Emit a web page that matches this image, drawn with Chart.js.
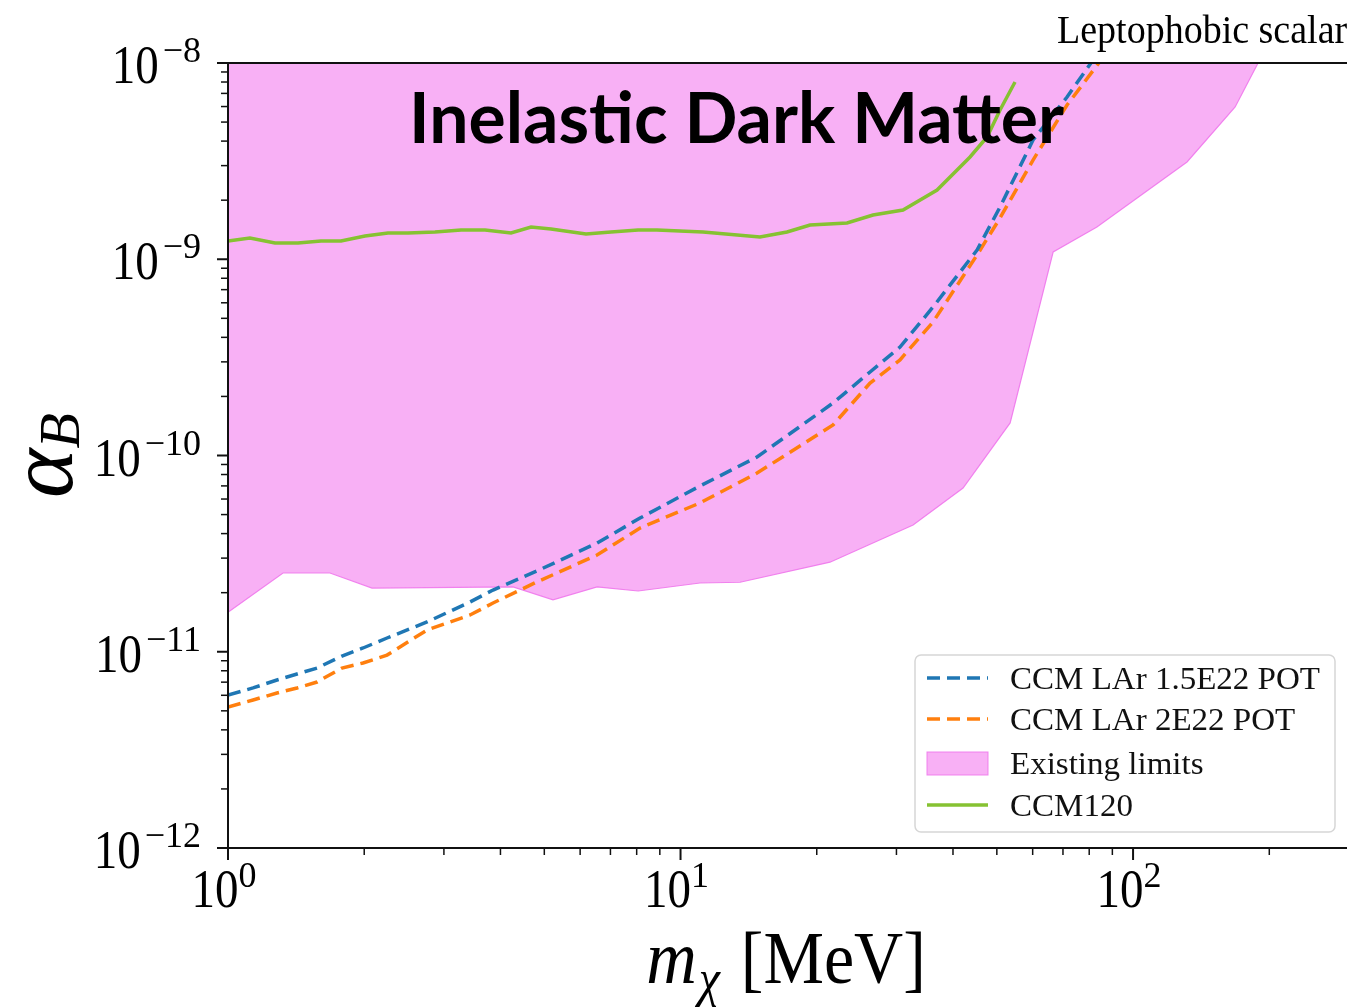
<!DOCTYPE html>
<html>
<head>
<meta charset="utf-8">
<script src="https://cdn.jsdelivr.net/npm/chart.js@4.4.1/dist/chart.umd.min.js"></script>
<style>
  body { margin: 0; background: #fff; }
  canvas { display: block; }
</style>
</head>
<body>
<canvas id="limits" width="1347" height="1007"></canvas>
<script>
// m_chi [MeV] / alpha_B values
const limitMass = [1.0, 1.323, 1.680, 2.081, 4.264, 5.226, 6.54, 8.06, 11.04, 13.54, 21.39, 32.65, 42.1, 53.5, 66.6, 83.2, 131.6, 168.1, 188.9];
const limitAlpha = [1.59e-11, 2.52e-11, 2.52e-11, 2.11e-11, 2.14e-11, 1.84e-11, 2.14e-11, 2.04e-11, 2.24e-11, 2.26e-11, 2.86e-11, 4.42e-11, 6.83e-11, 1.465e-10, 1.09e-9, 1.46e-9, 3.13e-9, 5.97e-9, 1.0e-8];

const ccm120Mass = [1.0, 1.118, 1.270, 1.428, 1.605, 1.777, 2.008, 2.257, 2.499, 2.867, 3.273, 3.698, 4.221, 4.674, 5.173, 6.182, 7.02, 8.06, 8.87, 11.21, 14.98, 17.19, 19.33, 23.33, 26.63, 31.02, 36.89, 43.63, 47.58, 50.82, 54.85];
const ccm120Alpha = [1.239e-9, 1.282e-9, 1.210e-9, 1.210e-9, 1.239e-9, 1.239e-9, 1.313e-9, 1.361e-9, 1.361e-9, 1.377e-9, 1.409e-9, 1.409e-9, 1.361e-9, 1.459e-9, 1.426e-9, 1.345e-9, 1.377e-9, 1.409e-9, 1.409e-9, 1.377e-9, 1.298e-9, 1.377e-9, 1.495e-9, 1.531e-9, 1.680e-9, 1.782e-9, 2.254e-9, 3.32e-9, 4.20e-9, 5.76e-9, 8.00e-9];

const lar15Mass = [1.0, 1.136, 1.283, 1.421, 1.573, 1.786, 1.988, 2.246, 2.753, 3.426, 3.852, 4.818, 6.539, 8.137, 11.04, 14.76, 21.73, 26.23, 30.55, 36.14, 45.21, 50.82, 60.11, 71.47, 84.55];
const lar15Alpha = [6.02e-12, 6.54e-12, 7.18e-12, 7.70e-12, 8.26e-12, 9.51e-12, 1.045e-11, 1.175e-11, 1.418e-11, 1.792e-11, 2.063e-11, 2.58e-11, 3.58e-11, 4.80e-11, 6.99e-11, 9.83e-11, 1.851e-10, 2.664e-10, 3.57e-10, 5.71e-10, 1.114e-9, 1.845e-9, 4.05e-9, 6.71e-9, 1.165e-8];

const lar2Mass = [1.0, 1.136, 1.283, 1.421, 1.573, 1.786, 1.988, 2.246, 2.753, 3.426, 3.852, 4.818, 6.539, 8.137, 11.04, 14.76, 21.73, 26.23, 30.55, 36.14, 45.21, 50.82, 60.11, 71.47, 88.96];
const lar2Alpha = [5.23e-12, 5.68e-12, 6.16e-12, 6.54e-12, 7.01e-12, 8.26e-12, 8.76e-12, 9.62e-12, 1.29e-11, 1.539e-11, 1.771e-11, 2.27e-11, 3.11e-11, 4.27e-11, 5.73e-11, 8.14e-11, 1.43e-10, 2.34e-10, 3.07e-10, 4.79e-10, 1.051e-9, 1.622e-9, 3.20e-9, 6.11e-9, 1.19e-8];

const seriesLabels = ['CCM LAr 1.5E22 POT', 'CCM LAr 2E22 POT', 'Existing limits', 'CCM120'];
const xRange = [1, 297];
const yRange = [1e-12, 1e-8];
const titleText = 'Inelastic Dark Matter';
const cornerText = 'Leptophobic scalar';

const SERIF = '"Liberation Serif", "DejaVu Serif", serif';

function pts(xs, ys){
  return xs.map(function(x, i){ return {x: x, y: ys[i]}; });
}

function txt(ctx, s, x, y, font, align, sx, sy){
  ctx.save();
  ctx.font = font;
  ctx.textAlign = align || 'left';
  ctx.textBaseline = 'alphabetic';
  ctx.translate(x, y);
  ctx.scale(sx || 1, sy || 1);
  ctx.fillText(s, 0, 0);
  ctx.restore();
}

function width(ctx, s, font){
  ctx.save(); ctx.font = font; var w = ctx.measureText(s).width; ctx.restore();
  return w;
}

// log ticks at k*10^n, using the chart's own scale for pixel positions
function logTicks(scale){
  var out = [];
  var lo = Math.floor(Math.log10(scale.min) + 1e-9), hi = Math.ceil(Math.log10(scale.max) - 1e-9);
  for (var e = lo; e <= hi; e++){
    for (var k = 1; k <= 9; k++){
      var v = k * Math.pow(10, e);
      if (v < scale.min * 0.9999 || v > scale.max * 1.0001) continue;
      out.push({v: v, exp: e, major: k === 1, px: scale.getPixelForValue(v)});
    }
  }
  return out;
}

const baseFont = '47px ' + SERIF;
const expFont = '36px ' + SERIF;

const axesPlugin = {
  id: 'mplAxes',
  afterDraw: function(chart){
    var ctx = chart.ctx, a = chart.chartArea;
    var xs = chart.scales.x, ys = chart.scales.y;
    ctx.save();
    ctx.fillStyle = '#000';

    // spines
    ctx.strokeStyle = '#111';
    ctx.lineWidth = 2;
    ctx.beginPath();
    ctx.moveTo(a.left, a.top); ctx.lineTo(a.right, a.top);
    ctx.moveTo(a.left, a.top); ctx.lineTo(a.left, a.bottom);
    ctx.lineTo(a.right, a.bottom);
    ctx.stroke();

    // x ticks + labels
    logTicks(xs).forEach(function(t){
      ctx.lineWidth = t.major ? 2 : 1.5;
      ctx.beginPath();
      ctx.moveTo(t.px, a.bottom);
      ctx.lineTo(t.px, a.bottom + (t.major ? 12 : 7));
      ctx.stroke();
      if (t.major){
        var e = String(t.exp).replace('-', '\u2212');
        var wb = width(ctx, '10', baseFont), we = width(ctx, e, expFont);
        var x0 = t.px - 4 - (wb + we) / 2;
        txt(ctx, '10', x0, a.bottom + 59, baseFont, 'left', 1, 1.15);
        txt(ctx, e, x0 + wb, a.bottom + 39, expFont, 'left', 1, 1);
      }
    });

    // y ticks + labels
    logTicks(ys).forEach(function(t){
      ctx.lineWidth = t.major ? 2 : 1.5;
      ctx.beginPath();
      ctx.moveTo(a.left, t.px);
      ctx.lineTo(a.left - (t.major ? 11 : 7), t.px);
      ctx.stroke();
      if (t.major){
        var e = String(t.exp).replace('-', '\u2212');
        var wb = width(ctx, '10', baseFont), we = width(ctx, e, expFont);
        var right = a.left - 27;
        txt(ctx, '10', right - we - wb - 4, t.px + 20, baseFont, 'left', 1, 1.15);
        txt(ctx, e, right - we, t.px - 1, expFont, 'left', 1, 1);
      }
    });

    // x axis title: m_chi [MeV]
    var fM = 'italic 70px ' + SERIF, fSub = 'italic 48px ' + SERIF, fR = '68px ' + SERIF;
    var w1 = width(ctx, 'm', fM), w2 = width(ctx, '\u03c7', fSub), w3 = width(ctx, ' [MeV]', fR);
    var sx0 = 786 - (w1 + w2 + 6 + w3) / 2;
    txt(ctx, 'm', sx0, 983, fM, 'left', 1, 1.1);
    txt(ctx, '\u03c7', sx0 + w1 + 2, 996, fSub, 'left', 1, 1.1);
    txt(ctx, ' [MeV]', sx0 + w1 + w2 + 6, 983, fR, 'left', 1, 1.1);

    // y axis title: alpha_B (rotated)
    ctx.save();
    ctx.translate(0, (a.top + a.bottom) / 2);
    ctx.rotate(-Math.PI / 2);
    var fA = 'italic 94px ' + SERIF, fB = 'italic 58px ' + SERIF;
    var wa = width(ctx, '\u03b1', fA), wB = width(ctx, 'B', fB);
    var u0 = -(wa + wB) / 2;
    txt(ctx, '\u03b1', u0, 72, fA, 'left', 1, 1);
    txt(ctx, 'B', u0 + wa, 79, fB, 'left', 1, 1);
    ctx.restore();

    // corner label
    txt(ctx, cornerText, 1057, 43, '38px ' + SERIF, 'left', 1, 1.05);

    // legend
    var lx = 915, ly = 655, lw = 420, lh = 177;
    ctx.beginPath();
    ctx.roundRect(lx, ly, lw, lh, 6);
    ctx.fillStyle = 'rgba(255,255,255,0.85)';
    ctx.fill();
    ctx.strokeStyle = '#d6d6d6';
    ctx.lineWidth = 1.5;
    ctx.stroke();
    var rows = [678, 719, 763, 805];
    var ds = chart.data.datasets;
    seriesLabels.forEach(function(label, i){
      var d = ds.find(function(s){ return s.label === label; });
      var y = rows[i];
      ctx.save();
      if (d.fill){
        ctx.fillStyle = d.backgroundColor;
        ctx.strokeStyle = d.borderColor;
        ctx.lineWidth = 1;
        ctx.fillRect(927, y - 11, 61, 23);
        ctx.strokeRect(927, y - 11, 61, 23);
      } else {
        ctx.strokeStyle = d.borderColor;
        ctx.lineWidth = d.borderWidth;
        ctx.setLineDash(d.borderDash || []);
        ctx.beginPath();
        ctx.moveTo(927, y); ctx.lineTo(988, y);
        ctx.stroke();
      }
      ctx.restore();
      ctx.fillStyle = '#111';
      txt(ctx, label, 1010, y + 11, '31px ' + SERIF, 'left', 1.065, 1.05);
    });

    // big overlay title
    var tf = 'bold 70px Lato, "Open Sans", sans-serif';
    var tw = width(ctx, titleText, tf);
    ctx.fillStyle = '#000';
    txt(ctx, titleText, 409, 143, tf, 'left', 655 / tw, 1);

    ctx.restore();
  }
};

function noSize(scale){
  if (scale.isHorizontal()) scale.height = 0; else scale.width = 0;
}

new Chart(document.getElementById('limits').getContext('2d'), {
  type: 'line',
  data: {
    datasets: [
      {label: seriesLabels[0], data: pts(lar15Mass, lar15Alpha), borderColor: '#1f77b4', borderWidth: 3.5,
       borderDash: [13, 7], fill: false, order: 1},
      {label: seriesLabels[1], data: pts(lar2Mass, lar2Alpha), borderColor: '#ff7f0e', borderWidth: 3.5,
       borderDash: [13, 7], fill: false, order: 2},
      {label: seriesLabels[2], data: pts(limitMass, limitAlpha), borderColor: 'rgba(240,120,236,0.9)', borderWidth: 1.2,
       backgroundColor: 'rgba(246,150,242,0.75)', fill: 'end', order: 4},
      {label: seriesLabels[3], data: pts(ccm120Mass, ccm120Alpha), borderColor: '#86c232', borderWidth: 3.5,
       fill: false, order: 0}
    ]
  },
  options: {
    responsive: false,
    animation: false,
    layout: {padding: {left: 228, top: 63, right: 0, bottom: 159}},
    elements: {point: {radius: 0}, line: {tension: 0}},
    scales: {
      x: {type: 'logarithmic', min: xRange[0], max: xRange[1], afterFit: noSize,
          ticks: {display: false}, grid: {display: false}, border: {display: false}},
      y: {type: 'logarithmic', min: yRange[0], max: yRange[1], afterFit: noSize,
          ticks: {display: false}, grid: {display: false}, border: {display: false}}
    },
    plugins: {legend: {display: false}, tooltip: {enabled: false}}
  },
  plugins: [axesPlugin]
});
</script>
</body>
</html>
